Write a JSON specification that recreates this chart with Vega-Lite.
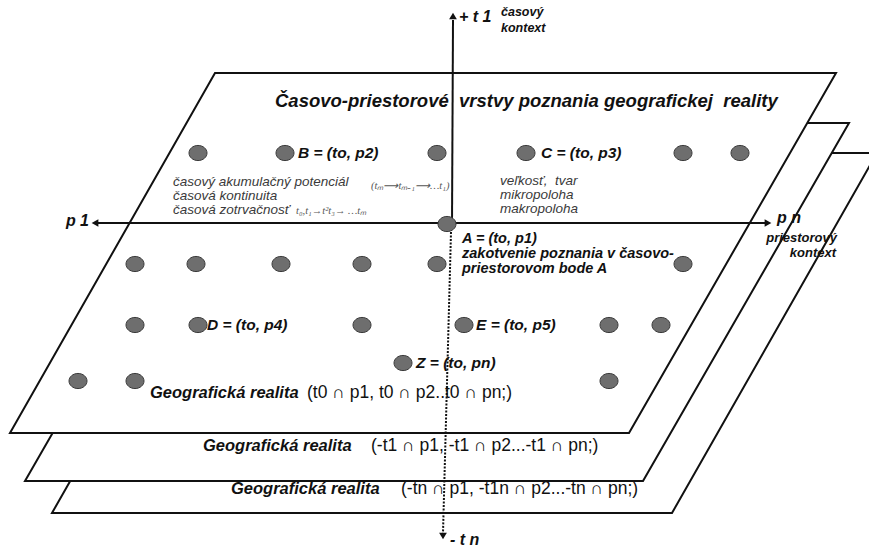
{
  "$schema": "https://vega.github.io/schema/vega-lite/v6.json",
  "width": 869,
  "height": 547,
  "autosize": {"type": "none"},
  "padding": 0,
  "background": "white",
  "config": {"view": {"stroke": null}},
  "datasets": {
    "planes": [
      {"plane": "p3", "y": 153, "xl": 257, "xr": 877},
      {"plane": "p3", "y": 513, "xl": 52, "xr": 672},
      {"plane": "p2", "y": 123, "xl": 231, "xr": 849},
      {"plane": "p2", "y": 481, "xl": 25, "xr": 643},
      {"plane": "p1", "y": 73, "xl": 215, "xr": 836},
      {"plane": "p1", "y": 433, "xl": 10, "xr": 629}
    ],
    "axes": [
      {"kind": "solid", "x": 453, "y": 20, "x2": 452, "y2": 224},
      {"kind": "solid", "x": 98, "y": 223, "x2": 765, "y2": 223},
      {"kind": "dotted", "x": 451, "y": 232, "x2": 443, "y2": 533}
    ],
    "arrows": [
      {"dir": "up", "x": 453, "y": 16},
      {"dir": "down", "x": 443, "y": 536},
      {"dir": "left", "x": 95, "y": 223},
      {"dir": "right", "x": 768, "y": 223}
    ],
    "dots": [
      {"x": 198, "y": 153}, {"x": 285, "y": 153}, {"x": 437, "y": 153}, {"x": 526, "y": 153}, {"x": 683, "y": 153}, {"x": 740, "y": 153},
      {"x": 447, "y": 224},
      {"x": 135, "y": 264}, {"x": 196, "y": 264}, {"x": 281, "y": 264}, {"x": 362, "y": 264}, {"x": 437, "y": 264}, {"x": 683, "y": 264},
      {"x": 135, "y": 325}, {"x": 198, "y": 325}, {"x": 362, "y": 325}, {"x": 464, "y": 325}, {"x": 609, "y": 325}, {"x": 661, "y": 325},
      {"x": 403, "y": 363},
      {"x": 78, "y": 381}, {"x": 135, "y": 381}, {"x": 609, "y": 381}
    ],
    "title": [
      {"t": "Časovo-priestorové \u00a0vrstvy poznania geografickej \u00a0reality", "x": 275, "y": 101}
    ],
    "labels": [
      {"t": "B = (to, p2)", "x": 298, "y": 153},
      {"t": "C = (to, p3)", "x": 541, "y": 153},
      {"t": "D = (to, p4)", "x": 207, "y": 325},
      {"t": "E = (to, p5)", "x": 476, "y": 325},
      {"t": "Z = (to, pn)", "x": 416, "y": 363}
    ],
    "anchorText": [
      {"t": "A = (to, p1)", "x": 462, "y": 239},
      {"t": "zakotvenie poznania v časovo-", "x": 462, "y": 254},
      {"t": "priestorovom bode A", "x": 462, "y": 269}
    ],
    "axisLabelsLeft": [
      {"t": "+ t 1", "x": 459, "y": 17},
      {"t": "- t n", "x": 450, "y": 540},
      {"t": "p n", "x": 777, "y": 218}
    ],
    "axisLabelsRight": [
      {"t": "p 1", "x": 89, "y": 221}
    ],
    "smallLabelsTop": [
      {"t": "časový", "x": 501, "y": 12},
      {"t": "kontext", "x": 501, "y": 28}
    ],
    "smallLabelsRight": [
      {"t": "priestorový", "x": 837, "y": 238},
      {"t": "kontext", "x": 836, "y": 253}
    ],
    "notes": [
      {"t": "časový akumulačný potenciál", "x": 173, "y": 182},
      {"t": "časová kontinuita", "x": 173, "y": 196},
      {"t": "časová zotrvačnosť", "x": 173, "y": 210},
      {"t": "veľkosť, \u00a0tvar", "x": 500, "y": 181},
      {"t": "mikropoloha", "x": 500, "y": 195},
      {"t": "makropoloha", "x": 500, "y": 209}
    ],
    "formulas": [
      {"t": "(tₘ⟶tₘ₋₁⟶…t₁)", "x": 371, "y": 186},
      {"t": "t₀,t₁→t²t₃→ …tₘ", "x": 296, "y": 211}
    ],
    "realityNames": [
      {"t": "Geografická realita", "x": 150, "y": 393},
      {"t": "Geografická realita", "x": 203, "y": 446},
      {"t": "Geografická realita", "x": 231, "y": 489}
    ],
    "realitySets": [
      {"t": "(t0 ∩ p1, t0 ∩ p2..t0 ∩ pn;)", "x": 307, "y": 393},
      {"t": "(-t1 ∩ p1, -t1 ∩ p2...-t1 ∩ pn;)", "x": 371, "y": 446},
      {"t": "(-tn ∩ p1, -t1n ∩ p2...-tn ∩ pn;)", "x": 401, "y": 489}
    ]
  },
  "encoding": {
    "x": {"field": "x", "type": "quantitative", "scale": {"domain": [0, 869], "nice": false, "zero": false}, "axis": null},
    "y": {"field": "y", "type": "quantitative", "scale": {"domain": [0, 547], "nice": false, "zero": false, "reverse": true}, "axis": null}
  },
  "layer": [
    {
      "data": {"name": "planes"},
      "transform": [{"filter": "datum.plane === 'p3'"}],
      "mark": {"type": "area", "orient": "horizontal", "fill": "white", "stroke": "#111", "strokeWidth": 2},
      "encoding": {
        "x": {"field": "xl", "type": "quantitative"},
        "x2": {"field": "xr"},
        "y": {"field": "y", "type": "quantitative"}
      }
    },
    {
      "data": {"name": "planes"},
      "transform": [{"filter": "datum.plane === 'p2'"}],
      "mark": {"type": "area", "orient": "horizontal", "fill": "white", "stroke": "#111", "strokeWidth": 2},
      "encoding": {
        "x": {"field": "xl", "type": "quantitative"},
        "x2": {"field": "xr"},
        "y": {"field": "y", "type": "quantitative"}
      }
    },
    {
      "data": {"name": "planes"},
      "transform": [{"filter": "datum.plane === 'p1'"}],
      "mark": {"type": "area", "orient": "horizontal", "fill": "white", "stroke": "#111", "strokeWidth": 2},
      "encoding": {
        "x": {"field": "xl", "type": "quantitative"},
        "x2": {"field": "xr"},
        "y": {"field": "y", "type": "quantitative"}
      }
    },
    {
      "data": {"name": "realityNames"},
      "mark": {"type": "text", "align": "left", "baseline": "middle", "font": "Liberation Sans", "fontSize": 16.5, "fontStyle": "italic", "fontWeight": "bold", "color": "#111"},
      "encoding": {"text": {"field": "t"}}
    },
    {
      "data": {"name": "realitySets"},
      "mark": {"type": "text", "align": "left", "baseline": "middle", "font": "Liberation Sans", "fontSize": 17.5, "color": "#111"},
      "encoding": {"text": {"field": "t"}}
    },
    {
      "data": {"name": "axes"},
      "transform": [{"filter": "datum.kind === 'solid'"}],
      "mark": {"type": "rule", "stroke": "#111", "strokeWidth": 2},
      "encoding": {"x2": {"field": "x2"}, "y2": {"field": "y2"}}
    },
    {
      "data": {"name": "axes"},
      "transform": [{"filter": "datum.kind === 'dotted'"}],
      "mark": {"type": "rule", "stroke": "#111", "strokeWidth": 2, "strokeDash": [2, 1.5]},
      "encoding": {"x2": {"field": "x2"}, "y2": {"field": "y2"}}
    },
    {
      "data": {"name": "arrows"},
      "transform": [{"filter": "datum.dir === 'up'"}],
      "mark": {"type": "point", "shape": "triangle-up", "filled": true, "color": "#111", "opacity": 1, "size": 60}
    },
    {
      "data": {"name": "arrows"},
      "transform": [{"filter": "datum.dir === 'down'"}],
      "mark": {"type": "point", "shape": "triangle-down", "filled": true, "color": "#111", "opacity": 1, "size": 60}
    },
    {
      "data": {"name": "arrows"},
      "transform": [{"filter": "datum.dir === 'left'"}],
      "mark": {"type": "point", "shape": "triangle-left", "filled": true, "color": "#111", "opacity": 1, "size": 60}
    },
    {
      "data": {"name": "arrows"},
      "transform": [{"filter": "datum.dir === 'right'"}],
      "mark": {"type": "point", "shape": "triangle-right", "filled": true, "color": "#111", "opacity": 1, "size": 60}
    },
    {
      "data": {"name": "dots"},
      "mark": {"type": "point", "shape": "M-1,0A1,0.84 0 1,0 1,0A1,0.84 0 1,0 -1,0Z", "filled": true, "fill": "#6e6e6e", "stroke": "#3a3a3a", "strokeWidth": 1, "size": 324, "opacity": 1}
    },
    {
      "data": {"name": "title"},
      "mark": {"type": "text", "align": "left", "baseline": "middle", "font": "Liberation Sans", "fontSize": 18.5, "fontStyle": "italic", "fontWeight": "bold", "color": "#111"},
      "encoding": {"text": {"field": "t"}}
    },
    {
      "data": {"name": "labels"},
      "mark": {"type": "text", "align": "left", "baseline": "middle", "font": "Liberation Sans", "fontSize": 15.5, "fontStyle": "italic", "fontWeight": "bold", "color": "#111"},
      "encoding": {"text": {"field": "t"}}
    },
    {
      "data": {"name": "anchorText"},
      "mark": {"type": "text", "align": "left", "baseline": "middle", "font": "Liberation Sans", "fontSize": 14.5, "fontStyle": "italic", "fontWeight": "bold", "color": "#111"},
      "encoding": {"text": {"field": "t"}}
    },
    {
      "data": {"name": "axisLabelsLeft"},
      "mark": {"type": "text", "align": "left", "baseline": "middle", "font": "Liberation Sans", "fontSize": 16, "fontStyle": "italic", "fontWeight": "bold", "color": "#111"},
      "encoding": {"text": {"field": "t"}}
    },
    {
      "data": {"name": "axisLabelsRight"},
      "mark": {"type": "text", "align": "right", "baseline": "middle", "font": "Liberation Sans", "fontSize": 16, "fontStyle": "italic", "fontWeight": "bold", "color": "#111"},
      "encoding": {"text": {"field": "t"}}
    },
    {
      "data": {"name": "smallLabelsTop"},
      "mark": {"type": "text", "align": "left", "baseline": "middle", "font": "Liberation Sans", "fontSize": 12.5, "fontStyle": "italic", "fontWeight": "bold", "color": "#111"},
      "encoding": {"text": {"field": "t"}}
    },
    {
      "data": {"name": "smallLabelsRight"},
      "mark": {"type": "text", "align": "right", "baseline": "middle", "font": "Liberation Sans", "fontSize": 13, "fontStyle": "italic", "fontWeight": "bold", "color": "#111"},
      "encoding": {"text": {"field": "t"}}
    },
    {
      "data": {"name": "notes"},
      "mark": {"type": "text", "align": "left", "baseline": "middle", "font": "Liberation Sans", "fontSize": 13.5, "fontStyle": "italic", "color": "#3a3a3a"},
      "encoding": {"text": {"field": "t"}}
    },
    {
      "data": {"name": "formulas"},
      "mark": {"type": "text", "align": "left", "baseline": "middle", "font": "Liberation Serif", "fontSize": 10.5, "fontStyle": "italic", "color": "#555"},
      "encoding": {"text": {"field": "t"}}
    }
  ]
}
